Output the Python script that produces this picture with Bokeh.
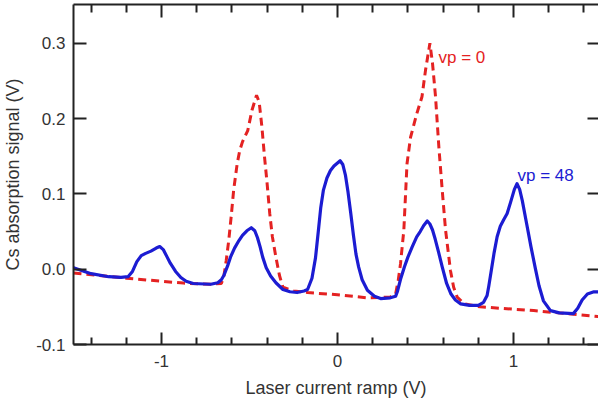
from bokeh.plotting import figure
from bokeh.models import (LinearAxis, FixedTicker, Range1d, Label)
from bokeh.embed import file_html
from bokeh.resources import INLINE

# ---- data ----
blue_x = [-1.50, -1.40, -1.30, -1.23, -1.19, -1.165, -1.14, -1.115, -1.09, -1.06,
          -1.03, -1.01, -0.99, -0.97, -0.95, -0.92, -0.89, -0.86, -0.82, -0.72,
          -0.68, -0.66, -0.645, -0.625, -0.608, -0.585, -0.56, -0.54, -0.515, -0.49,
          -0.47, -0.455, -0.44, -0.425, -0.405, -0.38, -0.35, -0.31, -0.27, -0.23,
          -0.19, -0.17, -0.145, -0.125, -0.11, -0.095, -0.08, -0.06, -0.04, -0.02,
          0.00, 0.015, 0.03, 0.045, 0.06, 0.075, 0.09, 0.105, 0.12, 0.14,
          0.17, 0.21, 0.245, 0.30, 0.33, 0.34, 0.36, 0.38, 0.40, 0.425,
          0.45, 0.47, 0.49, 0.51, 0.525, 0.54, 0.555, 0.575, 0.595, 0.62,
          0.645, 0.67, 0.70, 0.75, 0.80, 0.83, 0.85, 0.86, 0.875, 0.89,
          0.907, 0.925, 0.945, 0.964, 0.985, 1.005, 1.02, 1.035, 1.05, 1.075,
          1.10, 1.125, 1.145, 1.17, 1.21, 1.26, 1.34, 1.365, 1.39, 1.42,
          1.457, 1.49]
blue_y = [0.002, -0.006, -0.010, -0.011, -0.010, -0.003, 0.010, 0.018, 0.021, 0.024,
          0.028, 0.030, 0.026, 0.017, 0.008, -0.003, -0.011, -0.016, -0.019, -0.020,
          -0.018, -0.014, -0.008, 0.004, 0.016, 0.028, 0.038, 0.045, 0.051, 0.055,
          0.051, 0.042, 0.030, 0.016, 0.002, -0.009, -0.018, -0.027, -0.030, -0.031,
          -0.029, -0.027, -0.012, 0.015, 0.048, 0.082, 0.105, 0.121, 0.131, 0.137,
          0.141, 0.144, 0.139, 0.125, 0.102, 0.075, 0.046, 0.020, 0.003, -0.014,
          -0.028, -0.036, -0.039, -0.038, -0.036, -0.030, -0.012, 0.003, 0.016, 0.030,
          0.043, 0.050, 0.058, 0.064, 0.060, 0.052, 0.040, 0.022, 0.003, -0.019,
          -0.033, -0.041, -0.046, -0.048, -0.048, -0.044, -0.035, -0.022, 0.000, 0.022,
          0.043, 0.057, 0.066, 0.074, 0.090, 0.106, 0.1135, 0.106, 0.091, 0.060,
          0.029, 0.000, -0.022, -0.042, -0.055, -0.058, -0.059, -0.052, -0.041, -0.033,
          -0.030, -0.030]

red_x = [-1.50, -1.20, -0.875, -0.72, -0.66, -0.646, -0.632, -0.618, -0.604, -0.59,
         -0.57, -0.555, -0.54, -0.51, -0.486, -0.46, -0.445, -0.43, -0.415, -0.40,
         -0.385, -0.37, -0.35, -0.33, -0.31, -0.25, -0.17, 0.00, 0.17, 0.30,
         0.33, 0.345, 0.358, 0.377, 0.386, 0.395, 0.415, 0.45, 0.48, 0.50,
         0.525, 0.54, 0.557, 0.576, 0.595, 0.614, 0.642, 0.66, 0.68, 0.72,
         0.81, 1.115, 1.44, 1.49]
red_y = [-0.005, -0.012, -0.0185, -0.020, -0.019, -0.010, 0.012, 0.038, 0.070, 0.105,
         0.140, 0.158, 0.169, 0.184, 0.211, 0.231, 0.222, 0.190, 0.150, 0.114,
         0.074, 0.043, 0.016, -0.008, -0.024, -0.029, -0.031, -0.034, -0.038, -0.037,
         -0.033, -0.015, 0.007, 0.052, 0.096, 0.140, 0.175, 0.206, 0.229, 0.264,
         0.300, 0.273, 0.229, 0.162, 0.105, 0.052, -0.002, -0.024, -0.037, -0.046,
         -0.050, -0.055, -0.062, -0.063]

x_major = [-1, 0, 1]
x_major_labels = ["-1", "0", "1"]
x_minor = [-1.4, -1.2, -0.8, -0.6, -0.4, -0.2, 0.2, 0.4, 0.6, 0.8, 1.2, 1.4]
y_major = [-0.1, 0.0, 0.1, 0.2, 0.3]
y_major_labels = ["-0.1", "0.0", "0.1", "0.2", "0.3"]

label_red = "vp = 0"
label_blue = "vp = 48"

# ---- styling ----
FONT = "Liberation Sans"
BLUE = "#1c1cd2"
RED = "#e42222"
AX = "#222222"

p = figure(width=598, height=400, output_backend="svg", toolbar_location=None,
           x_range=Range1d(-1.5, 1.483), y_range=Range1d(-0.1, 0.3514),
           x_axis_location=None, y_axis_location=None,
           min_border_left=73, min_border_right=0, min_border_top=4,
           min_border_bottom=56)
p.grid.visible = False
p.outline_line_color = None
p.background_fill_color = "white"
p.border_fill_color = "white"

xt = FixedTicker(ticks=x_major, minor_ticks=x_minor)
yt = FixedTicker(ticks=y_major, minor_ticks=[])

def style(ax):
    ax.axis_line_color = AX
    ax.axis_line_width = 2
    ax.major_tick_line_color = AX
    ax.major_tick_line_width = 2
    ax.minor_tick_line_color = AX
    ax.minor_tick_line_width = 2
    ax.major_tick_out = 0
    ax.minor_tick_out = 0
    ax.major_label_text_font = FONT
    ax.major_label_text_font_size = "17px"
    ax.major_label_text_color = "#333333"
    ax.axis_label_text_font = FONT
    ax.axis_label_text_font_size = "18px"
    ax.axis_label_text_font_style = "normal"
    ax.axis_label_text_color = "#333333"

bottom = LinearAxis(ticker=xt, axis_label="Laser current ramp (V)",
                    major_label_overrides={v: s for v, s in zip(x_major, x_major_labels)})
style(bottom)
bottom.major_tick_in = 12
bottom.minor_tick_in = 7
bottom.major_label_standoff = 10
bottom.axis_label_standoff = 8
p.add_layout(bottom, "below")

top = LinearAxis(ticker=xt, major_label_overrides={v: "" for v in x_major})
style(top)
top.major_tick_in = 13
top.minor_tick_in = 8
top.major_label_standoff = 0
top.major_label_text_font_size = "0px"
p.add_layout(top, "above")

left = LinearAxis(ticker=yt, axis_label="Cs absorption signal (V)",
                  major_label_overrides={v: s for v, s in zip(y_major, y_major_labels)})
style(left)
left.major_tick_in = 13
left.minor_tick_in = 0
left.major_label_standoff = 8
left.axis_label_standoff = 10
p.add_layout(left, "left")

right = LinearAxis(ticker=yt, major_label_overrides={v: "" for v in y_major})
style(right)
right.axis_line_color = None
right.major_tick_in = 11
right.minor_tick_in = 0
right.major_label_standoff = 0
right.major_label_text_font_size = "0px"
p.add_layout(right, "right")

p.line(red_x, red_y, line_color=RED, line_width=3, line_dash="8 5")
p.line(blue_x, blue_y, line_color=BLUE, line_width=3.2, line_join="round")

p.add_layout(Label(x=0.574, y=0.281, text=label_red, text_color=RED,
                   text_font=FONT, text_font_size="17px", text_baseline="middle"))
p.add_layout(Label(x=1.023, y=0.1246, text=label_blue, text_color=BLUE,
                   text_font=FONT, text_font_size="17px", text_baseline="middle"))

open("out.html", "w").write(file_html(p, INLINE))
